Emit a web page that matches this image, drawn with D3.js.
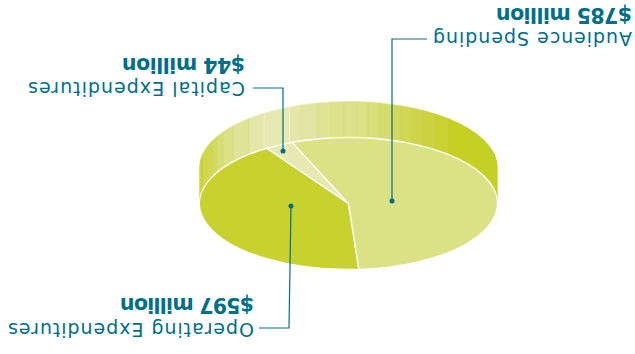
<!DOCTYPE html>
<html>
<head>
<meta charset="utf-8">
<style>
html,body{margin:0;padding:0;background:#fff}
svg{display:block}
text{font-family:"DejaVu Sans",sans-serif;fill:#006f8a}
</style>
<script src="https://cdn.jsdelivr.net/npm/d3@7/dist/d3.min.js"></script>
</head>
<body>
<svg id="chart" width="635" height="354"></svg>
<script>
// Budget breakdown shown as an extruded pie, in $ millions.
const categories = ["Operating Expenditures", "Capital Expenditures", "Audience Spending"];
const amounts = [597, 44, 785];
const amountLabels = ["$597 million", "$44 million", "$785 million"];
const sliceColors = ["#c8d22e", "#e6e9b2", "#dbe185"];

// Shaded bands around the visible rim: edge angles in degrees and their tints.
const rimEdges = [90, 97, 105, 113.6, 118, 122.6, 129.2, 138.1, 145.5, 156.7, 161.4, 167.8, 173.3, 178.3, 183.3, 187.5, 191.8, 197, 200.6, 205.2, 210, 215.5, 222.4, 270];
const rimTints = ["#c8d22e", "#ccd43c", "#d1d850", "#d4da60", "#d8de76", "#dce183", "#e0e498", "#e3e7a8", "#e6e9b2", "#e4e7aa", "#e2e5a2", "#dfe394", "#dee290", "#dde28a", "#dce186", "#d8de78", "#d5db6c", "#d2d95c", "#d0d755", "#cdd54a", "#cbd33e", "#c8d232", "#c4d024"];

// Layout of the disc.
const cx = 286.5, cy = 150.5, rx = 149, ry = 66, depth = 36;
const firstAngle = -4 * Math.PI / 180;

const svg = d3.select("#chart");
const root = svg.append("g").attr("transform", "rotate(180 317.5 177)");

const rad = d => d * Math.PI / 180;
const px = a => cx + rx * Math.sin(rad(a));
const py = a => cy - ry * Math.cos(rad(a));

// Rim bands first, so the top face sits over their upper edge.
const rimPath = (a0, a1) => {
  const arc = (x, y, sweep) => `A${rx},${ry} 0 0 ${sweep} ${x},${y}`;
  return `M${px(a0)},${py(a0)}` + arc(px(a1), py(a1), 1) +
         `L${px(a1)},${py(a1) + depth}` + arc(px(a0), py(a0) + depth, 0) + "Z";
};

const rim = root.append("g");
rim.selectAll("path").data(rimTints).join("path")
  .attr("d", (d, i) => rimPath(rimEdges[i], rimEdges[i + 1]))
  .attr("fill", d => d)
  .attr("stroke", d => d)
  .attr("stroke-width", 0.4);

// Faint seams between bands; the two around the small slice are lighter.
rim.selectAll("line").data(rimEdges.slice(1, -1)).join("line")
  .attr("x1", d => px(d)).attr("x2", d => px(d))
  .attr("y1", d => py(d)).attr("y2", d => py(d) + depth)
  .attr("stroke", d => (d === 145.5 || d === 156.7) ? "#f0f2d2" : "#b9c332")
  .attr("stroke-opacity", d => (d === 145.5 || d === 156.7) ? 1 : 0.25)
  .attr("stroke-width", d => (d === 145.5 || d === 156.7) ? 0.9 : 0.6);

// Top face: a regular pie squashed into an ellipse.
const pie = d3.pie().sort(null).startAngle(firstAngle).endAngle(firstAngle + 2 * Math.PI);
const arc = d3.arc().innerRadius(0).outerRadius(rx);

root.append("g")
  .attr("transform", `translate(${cx},${cy}) scale(1,${ry / rx})`)
  .selectAll("path").data(pie(amounts)).join("path")
  .attr("d", arc)
  .attr("fill", (d, i) => sliceColors[i])
  .attr("stroke", "#fff")
  .attr("stroke-width", 1.3)
  .attr("vector-effect", "non-scaling-stroke");

// Leader lines: dot on the slice, then out to its label.
const leaderRoutes = [
  [[344, 148], [346, 26], [376, 26]],
  [[352, 203], [352, 266], [382, 266]],
  [[243, 153], [243, 315], [208, 315]]
];
const leaderLine = d3.line();
const leaders = root.append("g");
leaders.selectAll("path").data(leaderRoutes).join("path")
  .attr("d", leaderLine)
  .attr("fill", "none")
  .attr("stroke", "#006f8a")
  .attr("stroke-width", 1.2);
leaders.selectAll("circle").data(leaderRoutes).join("circle")
  .attr("cx", d => d[0][0])
  .attr("cy", d => d[0][1])
  .attr("r", 2.5)
  .attr("fill", "#006f8a");

// Labels: category name with the amount in bold underneath.
const nameSpots = [[381, 31, 246], [390, 272, 217], [3, 322, 199]];
const valueSpots = [[381, 56, 134], [390, 296, 123], [3, 346, 136]];
const labels = root.append("g");
labels.selectAll("text.name").data(categories).join("text")
  .attr("class", "name")
  .attr("x", (d, i) => nameSpots[i][0])
  .attr("y", (d, i) => nameSpots[i][1])
  .attr("textLength", (d, i) => nameSpots[i][2])
  .attr("lengthAdjust", "spacing")
  .attr("font-size", 19)
  .text(d => d);
labels.selectAll("text.value").data(amountLabels).join("text")
  .attr("class", "value")
  .attr("x", (d, i) => valueSpots[i][0])
  .attr("y", (d, i) => valueSpots[i][1])
  .attr("textLength", (d, i) => valueSpots[i][2])
  .attr("lengthAdjust", "spacing")
  .attr("font-size", 20.5)
  .attr("font-weight", "bold")
  .text(d => d);
</script>
</body>
</html>
